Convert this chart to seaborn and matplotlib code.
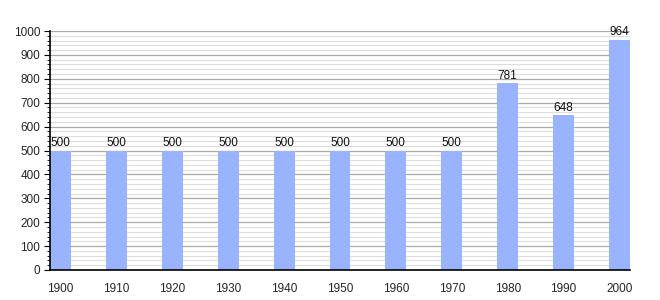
import matplotlib
matplotlib.use("Agg")
import matplotlib.pyplot as plt
import seaborn as sns
import pandas as pd
from matplotlib.ticker import MultipleLocator

years = ["1900", "1910", "1920", "1930", "1940", "1950", "1960", "1970", "1980", "1990", "2000"]
population = [500, 500, 500, 500, 500, 500, 500, 500, 781, 648, 964]

df = pd.DataFrame({"year": years, "pop": population})

sns.set_theme(style="white")
plt.rcParams['font.family'] = ['Liberation Sans', 'DejaVu Sans']

fig = plt.figure(figsize=(6.6, 3.0), dpi=100)
ax = fig.add_axes([50/660, 30/300, 580/660, 239/300])

ax.set_axisbelow(True)
ax.yaxis.set_major_locator(MultipleLocator(100))
ax.yaxis.set_minor_locator(MultipleLocator(20))
ax.grid(which="minor", axis="y", color="#dddddd", linewidth=0.8)
ax.grid(which="major", axis="y", color="#aaaaaa", linewidth=0.9)

sns.barplot(data=df, x="year", y="pop", color="#99b3ff", saturation=1,
            width=0.375, ax=ax, zorder=2, linewidth=0)

for i, v in enumerate(population):
    ax.text(i, v + 5, str(v), ha="center", va="bottom", fontsize=8.5, color="#111111")

ax.set_xlim(-0.1875, 10.1875)
ax.set_ylim(0, 1000)
ax.set_xlabel("")
ax.set_ylabel("")
for s in ["top", "right"]:
    ax.spines[s].set_visible(False)
for s in ["left", "bottom"]:
    ax.spines[s].set_color("black")
    ax.spines[s].set_linewidth(1.2)
ax.tick_params(axis="y", which="major", left=True, length=4, width=0.8, labelsize=8.5, pad=3, color="black")
ax.tick_params(axis="y", which="minor", left=True, length=2, width=0.6, color="black")
ax.tick_params(axis="x", bottom=False, labelsize=8.5, pad=3)

fig.savefig("out.png", dpi=100)
